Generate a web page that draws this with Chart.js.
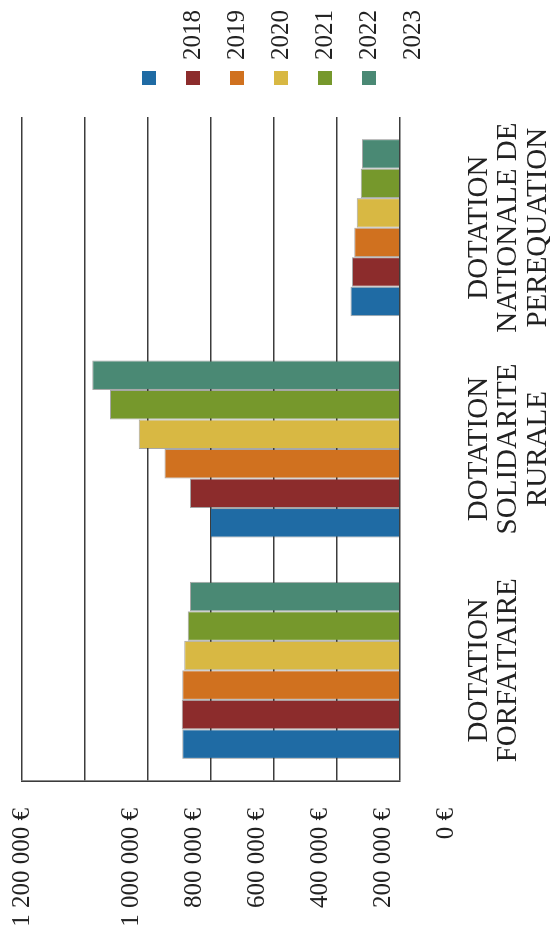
<!DOCTYPE html>
<html>
<head>
<meta charset="utf-8">
<script src="https://cdn.jsdelivr.net/npm/chart.js@4/dist/chart.umd.min.js"></script>
<style>
  html, body { margin: 0; padding: 0; background: #ffffff; overflow: hidden; }
  #page { width: 550px; height: 937px; position: relative; overflow: hidden; }
  /* the chart is laid out landscape and turned a quarter turn counter-clockwise */
  #wrap {
    position: absolute; left: 0; top: 0;
    width: 937px; height: 550px;
    transform-origin: 0 0;
    transform: translateY(937px) rotate(-90deg);
  }
</style>
</head>
<body>
<div id="page">
  <div id="wrap"><canvas id="c" width="937" height="550"></canvas></div>
</div>
<script>
// Categories (multi-line labels)
const categories = [
  ["DOTATION", "FORFAITAIRE"],
  ["DOTATION", "SOLIDARITE", "RURALE"],
  ["DOTATION", "NATIONALE DE", "PEREQUATION"]
];

// Years shown in the legend
const years = ["2018", "2019", "2020", "2021", "2022", "2023"];

// Amounts per year, in euros, one value per category
const values2018 = [691000, 603000, 157000];
const values2019 = [693000, 667000, 152000];
const values2020 = [691000, 748000, 145000];
const values2021 = [685000, 829000, 137000];
const values2022 = [674000, 921000, 125000];
const values2023 = [667000, 977000, 121000];

// Value axis ticks and their labels
const tickValues = [0, 200000, 400000, 600000, 800000, 1000000, 1200000];
const tickLabels = ["0 €", "200 000 €", "400 000 €", "600 000 €", "800 000 €", "1 000 000 €", "1 200 000 €"];

const seriesValues = [values2018, values2019, values2020, values2021, values2022, values2023];
const seriesColors = ["#1f6ba4", "#8c2c2c", "#d0711f", "#d8b843", "#76982c", "#4a8974"];

const SERIF = '"Liberation Serif", "Times New Roman", serif';
const GRID = "#3c3c3c";

// Value-axis labels, drawn next to the left edge of the plot
const valueLabels = {
  id: "valueLabels",
  afterDraw(chart) {
    const ctx = chart.ctx;
    const y = chart.scales.y;
    ctx.save();
    ctx.font = "25px " + SERIF;
    ctx.fillStyle = "#222";
    ctx.textAlign = "right";
    ctx.textBaseline = "middle";
    tickValues.forEach((v, i) => {
      const shift = (i === tickValues.length - 1) ? 0 : 46;
      ctx.fillText(tickLabels[i], chart.chartArea.left - 27, y.getPixelForValue(v) + shift);
    });
    ctx.restore();
  }
};

// Year key: coloured squares with the year names set one row lower
const yearKey = {
  id: "yearKey",
  afterDraw(chart) {
    const ctx = chart.ctx;
    const boxX = 852, textX = 877, firstRow = 149, rowGap = 44, box = 14;
    ctx.save();
    chart.data.datasets.forEach((ds, i) => {
      ctx.fillStyle = ds.backgroundColor;
      ctx.fillRect(boxX, firstRow + rowGap * i - box / 2, box, box);
    });
    ctx.font = "25px " + SERIF;
    ctx.fillStyle = "#222";
    ctx.textAlign = "left";
    ctx.textBaseline = "middle";
    years.forEach((yr, i) => {
      ctx.fillText(yr, textX, firstRow + rowGap * (i + 1));
    });
    ctx.restore();
  }
};

new Chart(document.getElementById("c"), {
  type: "bar",
  data: {
    labels: categories,
    datasets: years.map((yr, i) => ({
      label: yr,
      data: seriesValues[i],
      backgroundColor: seriesColors[i],
      borderColor: "rgba(60,60,60,0.45)",
      borderWidth: 1,
      categoryPercentage: 0.8,
      barPercentage: 1.0
    }))
  },
  options: {
    responsive: false,
    animation: false,
    devicePixelRatio: 1,
    layout: { padding: { left: 156, right: 117, top: 22, bottom: 0 } },
    plugins: { legend: { display: false }, tooltip: { enabled: false } },
    scales: {
      x: {
        grid: { display: false, drawTicks: false },
        border: { display: false },
        ticks: {
          color: "#222",
          font: { family: SERIF, size: 29, lineHeight: 1.03 },
          padding: 64,
          maxRotation: 0,
          autoSkip: false
        },
        afterFit(scale) { scale.height = 150; }
      },
      y: {
        min: 0,
        max: 1200000,
        afterBuildTicks(scale) { scale.ticks = tickValues.map(v => ({ value: v })); },
        grid: { color: GRID, lineWidth: 1.6, drawTicks: false },
        border: { display: true, color: GRID, width: 1.6 },
        ticks: { display: false },
        afterFit(scale) { scale.width = 0; }
      }
    }
  },
  plugins: [valueLabels, yearKey]
});
</script>
</body>
</html>
